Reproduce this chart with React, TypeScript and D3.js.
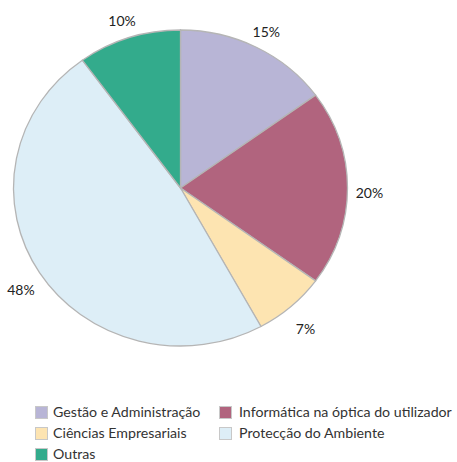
import React from 'react'
import * as d3 from 'd3'

const categories = ['Gestão e Administração', 'Informática na óptica do utilizador', 'Ciências Empresariais', 'Protecção do Ambiente', 'Outras']
const values = [15, 20, 7, 48, 10]
const colors = ['#b8b5d6', '#b1647e', '#fde4b1', '#ddeef7', '#33ab8c']
// legend order as in the picture (two columns)
const legendOrder = [0, 1, 2, 3, 4]

const App = () => {
    const width = 457, height = 462
    const cx = 180.5, cy = 188
    const rx = 167, ry = 158

    const pie = d3.pie<number>().sort(null).value(d => d)
    const arcs = pie(values)
    // draw on a circle of radius ry, then stretch horizontally
    const arc = d3.arc<d3.PieArcDatum<number>>().innerRadius(0).outerRadius(ry)
    const labelArc = d3.arc<d3.PieArcDatum<number>>().innerRadius(181).outerRadius(181)

    return (
        <svg width={width} height={height} style={{ position: 'absolute', left: 0, top: 0, fontFamily: 'Lato, sans-serif' }}>
            <g transform={`translate(${cx},${cy}) scale(${rx / ry},1)`}>
                {arcs.map((a, i) => (
                    <path key={i} d={arc(a) || ''} fill={colors[i]} stroke="#b5b5b5" strokeWidth={1.3} vectorEffect="non-scaling-stroke" />
                ))}
            </g>
            <g transform={`translate(${cx},${cy + 5})`}>
                {arcs.map((a, i) => {
                    const [x, y] = labelArc.centroid(a)
                    const mid = (a.startAngle + a.endAngle) / 2
                    const dx = 8 * Math.sin(mid)
                    return (
                        <text key={i} x={x + dx} y={y} dy="0.35em" textAnchor="middle" fontSize={14} fill="#222">
                            {values[i]}%
                        </text>
                    )
                })}
            </g>
            <g fontSize={14.2} fill="#333">
                {legendOrder.map((k, j) => {
                    const col = j % 2, row = Math.floor(j / 2)
                    const x = col === 0 ? 35 : 219
                    const y = 406 + row * 21
                    return (
                        <g key={k} transform={`translate(${x},${y})`}>
                            <rect x={0.5} y={0.5} width={12} height={12} fill={colors[k]} stroke="#c8c8c8" strokeWidth={1} />
                            <text x={col === 0 ? 18 : 20} y={11} fill="#333">{categories[k]}</text>
                        </g>
                    )
                })}
            </g>
        </svg>
    )
}

export default App
